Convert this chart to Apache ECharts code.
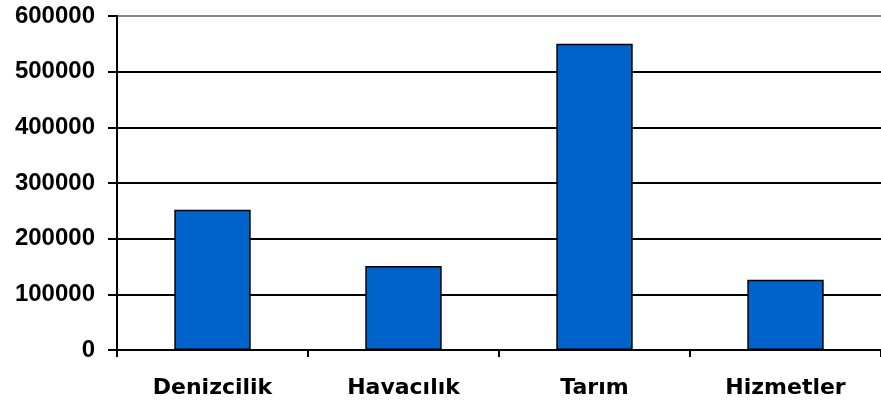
<!DOCTYPE html>
<html><head><meta charset="utf-8">
<script src="https://cdn.jsdelivr.net/npm/echarts@6/dist/echarts.min.js"></script>
<style>html,body{margin:0;padding:0;background:#fff}#c{width:881px;height:405px}</style>
</head><body><div id="c"></div>
<script>
const categories = ['Denizcilik', 'Havacılık', 'Tarım', 'Hizmetler'];
const values = [252000, 151000, 550000, 126000];
const yTicks = [0, 100000, 200000, 300000, 400000, 500000, 600000];
const chart = echarts.init(document.getElementById('c'));
chart.setOption({
  animation: false,
  grid: {left: 117, right: -6, top: 16, bottom: 55, containLabel: false},
  xAxis: {
    type: 'category', data: categories,
    axisLine: {lineStyle: {color: '#000', width: 2}},
    axisTick: {show: true, length: 7, lineStyle: {color: '#000', width: 2}},
    axisLabel: {color: '#000', fontFamily: 'DejaVu Sans', fontWeight: 'bold', fontSize: 22, margin: 27}
  },
  yAxis: {
    type: 'value', min: yTicks[0], max: yTicks[yTicks.length - 1], interval: yTicks[1] - yTicks[0],
    axisLine: {show: true, lineStyle: {color: '#000', width: 2}},
    axisTick: {show: true, length: 9, lineStyle: {color: '#000', width: 2}},
    splitLine: {lineStyle: {color: ['#000','#000','#000','#000','#000','#000','#888'], width: 2}},
    axisLabel: {color: '#000', fontFamily: "'Liberation Sans'", fontWeight: 'bold', fontSize: 24, margin: 22,
      formatter: v => String(v)}
  },
  series: [{
    type: 'bar', data: values, barCategoryGap: '60%',
    itemStyle: {color: '#0063CC', borderColor: '#000', borderWidth: 1.5}
  }]
});
</script></body></html>
